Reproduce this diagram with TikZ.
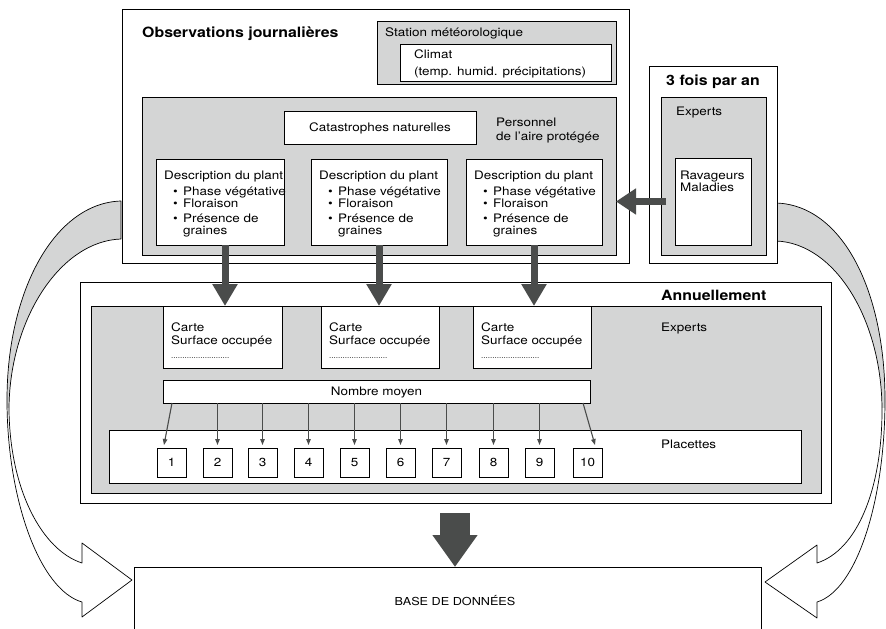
\documentclass[tikz,border=0pt]{standalone}
\usepackage{fontspec}
\setmainfont{TeX Gyre Heros}[FakeStretch=1.15]
\newfontfamily\headfont{TeX Gyre Heros}[FakeStretch=1.12]
\usetikzlibrary{arrows.meta,calc}
\definecolor{panel}{RGB}{212,213,213}
\definecolor{ink}{RGB}{74,76,75}

\tikzset{
  frame/.style={draw=black, line width=0.8pt, fill=white, inner sep=0pt, outer sep=0pt, anchor=north west},
  panelbox/.style={frame, fill=panel},
  lbl/.style={inner sep=0pt, anchor=base west, font=\fontsize{11.7}{13}\selectfont},
  headlbl/.style={inner sep=0pt, anchor=base west, font=\headfont\bfseries\fontsize{14.2}{16}\selectfont},
  capbox/.style={text height=8.4pt, text depth=0pt, font=\fontsize{11.7}{13}\selectfont},
  flow/.style={draw=ink, line width=7pt, -{Triangle[length=22pt,width=24pt]}},
  feed/.style={draw=ink, line width=1.1pt, -{Triangle[length=6pt,width=4.5pt]}},
  ribbon/.style={draw=black, line width=0.7pt, line join=round}
}

\begin{document}
\begin{tikzpicture}[x=1pt, y=-1pt]
\useasboundingbox (0,0) rectangle (886,629);
\clip (0,0) rectangle (886,629);

% ---- curved ribbons feeding the database ----
\def\leftribbon{(121,201) .. controls (55,203) and (7,290) .. (7,400)
  .. controls (7,500) and (40,590) .. (82,602) -- (82,617) -- (132,580)
  -- (82,543) -- (82,563) .. controls (42,550) and (10,490) .. (9,410)
  .. controls (9,320) and (60,241) .. (121,239) -- cycle}
\def\rightribbon{(776,203) .. controls (842,205) and (885,290) .. (885,400)
  .. controls (885,500) and (857,590) .. (817,602) -- (817,618) -- (765,582)
  -- (817,545) -- (817,563) .. controls (857,550) and (882,490) .. (882,410)
  .. controls (882,320) and (835,243) .. (776,241) -- cycle}
\begin{scope}
  \clip (0,0) rectangle (886,407);
  \fill[panel] \leftribbon;
  \fill[panel] \rightribbon;
\end{scope}
\draw[ribbon] \leftribbon;
\draw[ribbon] \rightribbon;

% ---- daily observations ----
\node[frame, minimum width=507pt, minimum height=254pt] (obs) at (122,9) {};
\node[headlbl] (obst) at (142,37) {Observations journalières};
\node[panelbox, minimum width=239pt, minimum height=63pt] (station) at (377,21) {};
\node[lbl] (stationt) at (385,36.5) {Station météorologique};
\node[frame, minimum width=211pt, minimum height=37pt] (climat) at (400,44) {};
\node[lbl] (climat1) at (414,58) {Climat};
\node[lbl] (climat2) at (414,75) {(temp. humid. précipitations)};

\node[panelbox, minimum width=474pt, minimum height=158pt] (pers) at (142,97) {};
\node[frame, capbox, minimum width=192pt, minimum height=33pt] (cat) at (284,111) {Catastrophes naturelles};
\node[lbl] (pers1) at (496,126.7) {Personnel};
\node[lbl] (pers2) at (496,140) {de l’aire protégée};

\node[frame, minimum width=128pt, minimum height=86pt] (d1) at (156,159) {};
\node[frame, minimum width=136pt, minimum height=86pt] (d2) at (311,159) {};
\node[frame, minimum width=136pt, minimum height=86pt] (d3) at (466,159) {};
\foreach \b in {d1,d2,d3}{
  \node[lbl] (\b-t) at ($(\b.north west)+(8,20)$) {Description du plant};
  \node[lbl] (\b-a) at ($(\b.north west)+(17,36)$) {\makebox[10pt][l]{•}Phase végétative};
  \node[lbl] (\b-b) at ($(\b.north west)+(17,48)$) {\makebox[10pt][l]{•}Floraison};
  \node[lbl] (\b-c) at ($(\b.north west)+(17,63)$) {\makebox[10pt][l]{•}Présence de};
  \node[lbl] (\b-d) at ($(\b.north west)+(27,75.5)$) {graines};
}

% ---- three times a year ----
\node[frame, minimum width=128pt, minimum height=197pt] (fois) at (649,66) {};
\node[headlbl, anchor=base] (foist) at (713,85) {3 fois par an};
\node[panelbox, minimum width=105pt, minimum height=158pt] (foisp) at (661,97) {};
\node[lbl] (foise) at (676,115.7) {Experts};
\node[frame, minimum width=76pt, minimum height=87pt] (rav) at (675,158) {};
\node[lbl] (rav1) at (680,179.3) {Ravageurs};
\node[lbl] (rav2) at (680,191.7) {Maladies};

% ---- yearly survey ----
\node[frame, minimum width=751pt, minimum height=221pt] (ann) at (80,282) {};
\node[headlbl] (annt) at (661,300) {Annuellement};
\node[panelbox, minimum width=730pt, minimum height=187pt] (annp) at (91,306) {};
\node[lbl] (anne) at (661,331.7) {Experts};
\node[frame, minimum width=119pt, minimum height=62pt] (c1) at (163,306) {};
\node[frame, minimum width=118pt, minimum height=62pt] (c2) at (321,306) {};
\node[frame, minimum width=118pt, minimum height=62pt] (c3) at (473,306) {};
\foreach \c in {c1,c2,c3}{
  \node[lbl] (\c-a) at ($(\c.north west)+(8,25.7)$) {Carte};
  \node[lbl] (\c-b) at ($(\c.north west)+(8,38.7)$) {Surface occupée};
  \node[lbl, font=\fontsize{7}{8}\selectfont] (\c-c) at ($(\c.north west)+(8,52.5)$) {..........................};
}
\node[frame, capbox, minimum width=427pt, minimum height=23pt] (nombre) at (163,380) {Nombre moyen};
\node[frame, minimum width=692pt, minimum height=53pt] (plac) at (109,430) {};
\node[lbl] (plact) at (661,448.3) {Placettes};
\foreach \x [count=\i] in {157,203,248,294,340,386,432,479,525,573}
  \node[frame, capbox, minimum width=29pt, minimum height=29pt] (p\i) at (\x,448) {\i};

\draw[feed] ($(p1.north |- nombre.south)+(0.5,0)$) -- ($(p1.north)+(-7.5,-3)$);
\foreach \i in {2,...,9}
  \draw[feed] (p\i.north |- nombre.south) -- ($(p\i.north)+(0,-3)$);
\draw[feed] ($(p10.north |- nombre.south)+(-4.5,0)$) -- ($(p10.north)+(7.5,-3)$);

% ---- flows between levels ----
\draw[flow] ($(d1.south)+(5,0)$) -- ($(c1.north)+(2.5,0)$);
\draw[flow] (d2.south) -- (d2.south |- c2.north);
\draw[flow] (d3.south) -- (d3.south |- c3.north);
\draw[draw=ink, line width=6.5pt, -{Triangle[length=20pt,width=25pt]}]
  ($(rav.west)+(-9,0)$) -- (rav.west -| pers.east);

% ---- database ----
\node[frame, fill=none, minimum width=627pt, minimum height=90pt] (db) at (134,567) {};
\node[lbl, anchor=base, font=\fontsize{11}{13}\selectfont] (dbt) at (455,605) {BASE DE DONNÉES};
\coordinate (dbin) at (455,513);
\draw[draw=ink, line width=30pt, -{Triangle[length=32pt,width=43pt]}] (dbin) -- (dbin |- db.north);
\end{tikzpicture}
\end{document}
